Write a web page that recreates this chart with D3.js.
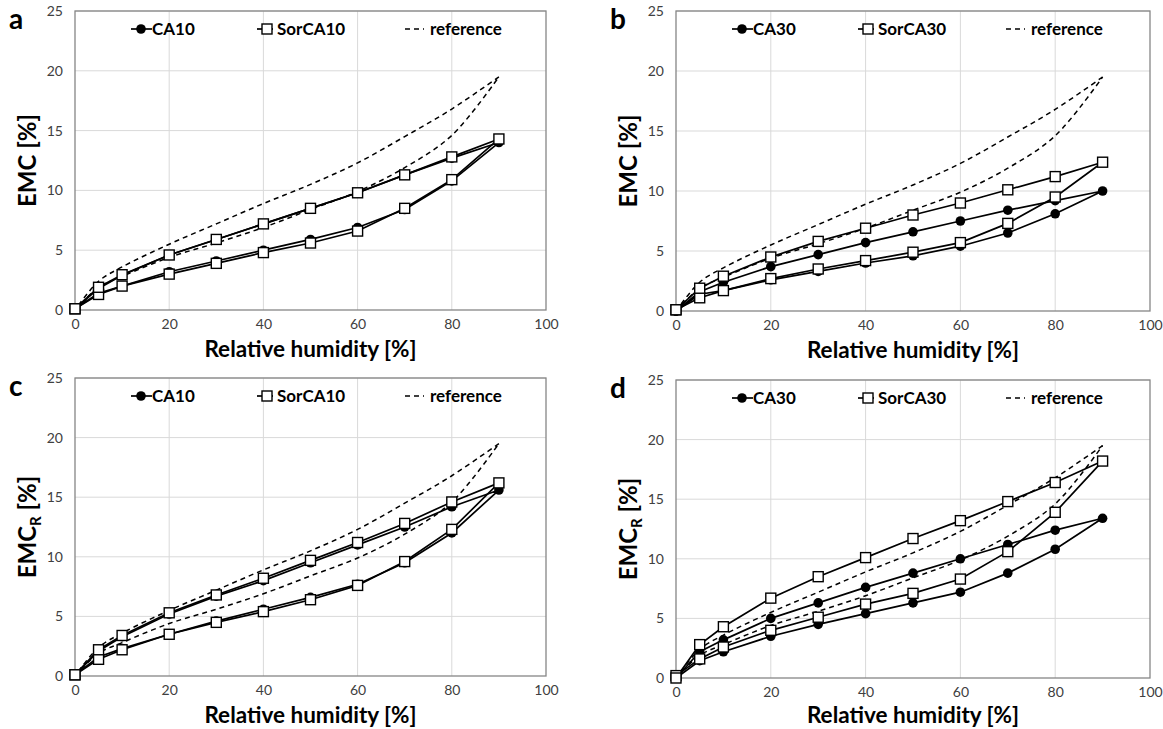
<!DOCTYPE html>
<html>
<head>
<meta charset="utf-8">
<script src="https://cdn.jsdelivr.net/npm/d3@7"></script>
<style>
  body { margin: 0; background: #fff; }
  svg { font-family: Lato, 'Open Sans', sans-serif; }
</style>
</head>
<body>
<div id="myPlot"></div>
<script>
// relative humidity steps: adsorption up, desorption back down
const rhAds = [0, 5, 10, 20, 30, 40, 50, 60, 70, 80, 90];
const rhDes = [80, 70, 60, 50, 40, 30, 20, 10, 5, 0];

// reference isotherm (same on every panel)
const refAds = [0, 1.9, 2.8, 4.4, 5.6, 6.9, 8.4, 9.9, 11.9, 14.6, 19.5];
const refDes = [16.8, 14.5, 12.3, 10.5, 8.9, 7.2, 5.5, 3.6, 2.4, 0];

// panel a - EMC, 10 % acetylation
const ca10Ads = [0.1, 1.4, 2.0, 3.2, 4.1, 5.0, 5.9, 6.9, 8.4, 10.8, 14.0];
const ca10Des = [12.7, 11.3, 9.8, 8.5, 7.2, 5.9, 4.6, 2.9, 1.8, 0.1];
const sorCa10Ads = [0.1, 1.3, 2.0, 3.0, 3.9, 4.8, 5.6, 6.6, 8.5, 10.9, 14.3];
const sorCa10Des = [12.8, 11.3, 9.8, 8.5, 7.2, 5.9, 4.6, 2.95, 1.9, 0.1];

// panel b - EMC, 30 %
const ca30Ads = [0, 1.4, 1.7, 2.6, 3.3, 4.0, 4.6, 5.4, 6.5, 8.1, 10.0];
const ca30Des = [9.2, 8.4, 7.5, 6.6, 5.7, 4.7, 3.7, 2.4, 1.6, 0];
const sorCa30Ads = [0.1, 1.1, 1.7, 2.7, 3.5, 4.2, 4.9, 5.7, 7.3, 9.5, 12.4];
const sorCa30Des = [11.2, 10.1, 9.0, 8.0, 6.9, 5.8, 4.5, 2.9, 1.9, 0.1];

// panel c - EMC_R, 10 %
const ca10RAds = [0.1, 1.6, 2.3, 3.5, 4.6, 5.6, 6.6, 7.7, 9.5, 12.0, 15.6];
const ca10RDes = [14.2, 12.5, 11.0, 9.5, 8.0, 6.7, 5.2, 3.3, 2.1, 0.1];
const sorCa10RAds = [0.1, 1.4, 2.2, 3.5, 4.5, 5.4, 6.4, 7.6, 9.6, 12.3, 16.2];
const sorCa10RDes = [14.6, 12.8, 11.2, 9.7, 8.2, 6.8, 5.3, 3.4, 2.2, 0.1];

// panel d - EMC_R, 30 %
const ca30RAds = [0, 1.45, 2.2, 3.5, 4.5, 5.4, 6.3, 7.2, 8.8, 10.8, 13.4];
const ca30RDes = [12.4, 11.2, 10.0, 8.8, 7.6, 6.3, 5.0, 3.2, 2.2, 0];
const sorCa30RAds = [0.2, 1.6, 2.6, 4.0, 5.1, 6.2, 7.1, 8.3, 10.6, 13.9, 18.2];
const sorCa30RDes = [16.4, 14.8, 13.2, 11.7, 10.1, 8.5, 6.7, 4.3, 2.8, 0];

const xTicks = [0, 20, 40, 60, 80, 100];
const yTicks = [0, 5, 10, 15, 20, 25];

const panels = [
  { letter: 'a', left: 75, right: 546, top: 11, bottom: 310, sub: false,
    names: ['CA10', 'SorCA10'], ca: [ca10Ads, ca10Des], sor: [sorCa10Ads, sorCa10Des] },
  { letter: 'b', left: 676, right: 1150, top: 11, bottom: 311, sub: false,
    names: ['CA30', 'SorCA30'], ca: [ca30Ads, ca30Des], sor: [sorCa30Ads, sorCa30Des] },
  { letter: 'c', left: 75, right: 546, top: 378, bottom: 676, sub: true,
    names: ['CA10', 'SorCA10'], ca: [ca10RAds, ca10RDes], sor: [sorCa10RAds, sorCa10RDes] },
  { letter: 'd', left: 676, right: 1150, top: 380, bottom: 678, sub: true,
    names: ['CA30', 'SorCA30'], ca: [ca30RAds, ca30RDes], sor: [sorCa30RAds, sorCa30RDes] }
];

const W = 1163, H = 729;
const svg = d3.select('#myPlot')
  .append('svg')
    .attr('width', W)
    .attr('height', H);

// ads + des into one loop of [rh, emc]
function loop(ads, des) {
  return rhAds.map((r, i) => [r, ads[i]]).concat(rhDes.map((r, i) => [r, des[i]]));
}

panels.forEach((p) => {
  const x = d3.scaleLinear().domain([0, 100]).range([p.left, p.right]);
  const y = d3.scaleLinear().domain([0, 25]).range([p.bottom, p.top]);
  const g = svg.append('g');

  // grid
  g.selectAll('line.hgrid')
    .data(yTicks.slice(1))
    .enter()
    .append('line')
      .attr('x1', p.left).attr('x2', p.right)
      .attr('y1', (d) => y(d)).attr('y2', (d) => y(d))
      .attr('stroke', '#d9d9d9').attr('stroke-width', 1);
  g.selectAll('line.vgrid')
    .data(xTicks.slice(1, -1))
    .enter()
    .append('line')
      .attr('y1', p.top).attr('y2', p.bottom)
      .attr('x1', (d) => x(d)).attr('x2', (d) => x(d))
      .attr('stroke', '#d9d9d9').attr('stroke-width', 1);

  g.append('rect')
    .attr('x', p.left).attr('y', p.top)
    .attr('width', p.right - p.left).attr('height', p.bottom - p.top)
    .attr('fill', 'none').attr('stroke', '#868686').attr('stroke-width', 1.3);

  // axes (labels only, frame drawn above)
  const xAxis = g.append('g')
    .attr('transform', 'translate(0,' + p.bottom + ')')
    .call(d3.axisBottom(x).tickValues(xTicks).tickSize(0).tickPadding(9));
  const yAxis = g.append('g')
    .attr('transform', 'translate(' + p.left + ',0)')
    .call(d3.axisLeft(y).tickValues(yTicks).tickSize(0).tickPadding(12));
  [xAxis, yAxis].forEach((a) => {
    a.select('.domain').remove();
    a.selectAll('text')
      .attr('font-family', 'Lato, sans-serif')
      .attr('font-size', 14)
      .attr('fill', '#404040');
  });

  // panel letter
  g.append('text')
    .attr('x', p.left - 66).attr('y', p.top + 18)
    .attr('font-size', 28).attr('font-weight', 'bold')
    .text(p.letter);

  // axis titles
  g.append('text')
    .attr('x', (p.left + p.right) / 2).attr('y', Math.min(p.bottom + 47, H - 6))
    .attr('text-anchor', 'middle')
    .attr('font-size', 22.5).attr('font-weight', 'bold')
    .text('Relative humidity [%]');

  const yt = g.append('text')
    .attr('transform', 'translate(' + (p.left - 39) + ',' + ((p.top + p.bottom) / 2) + ') rotate(-90)')
    .attr('text-anchor', 'middle')
    .attr('font-size', 24).attr('font-weight', 'bold');
  yt.append('tspan').text('EMC');
  if (p.sub) {
    yt.append('tspan').attr('font-size', 15).attr('dy', 5).text('R');
    yt.append('tspan').attr('dy', -5).text(' [%]');
  } else {
    yt.append('tspan').text(' [%]');
  }

  // reference dashed curves
  const refLine = d3.line()
    .x((d) => x(d[0])).y((d) => y(d[1]))
    .curve(d3.curveCatmullRom.alpha(0.5));
  const refA = rhAds.map((r, i) => [r, refAds[i]]);
  const refD = [[90, refAds[refAds.length - 1]]].concat(rhDes.map((r, i) => [r, refDes[i]]));
  [refA, refD].forEach((pts) => {
    g.append('path')
      .attr('d', refLine(pts))
      .attr('fill', 'none')
      .attr('stroke', '#000')
      .attr('stroke-width', 1.5)
      .attr('stroke-dasharray', '5,4');
  });

  // data loops
  const line = d3.line().x((d) => x(d[0])).y((d) => y(d[1]));
  const caPts = loop(p.ca[0], p.ca[1]);
  const sorPts = loop(p.sor[0], p.sor[1]);

  [caPts, sorPts].forEach((pts) => {
    g.append('path')
      .attr('d', line(pts))
      .attr('fill', 'none')
      .attr('stroke', '#000')
      .attr('stroke-width', 1.7);
  });

  g.selectAll('circle.ca')
    .data(caPts)
    .enter()
    .append('circle')
      .attr('cx', (d) => x(d[0]))
      .attr('cy', (d) => y(d[1]))
      .attr('r', 4.8)
      .attr('fill', '#000');

  g.selectAll('rect.sor')
    .data(sorPts)
    .enter()
    .append('rect')
      .attr('x', (d) => x(d[0]) - 5)
      .attr('y', (d) => y(d[1]) - 5)
      .attr('width', 10).attr('height', 10)
      .attr('fill', '#fff')
      .attr('stroke', '#000')
      .attr('stroke-width', 1.4);

  // legend
  const ly = p.top + 18;
  const lg = g.append('g').attr('font-size', 17).attr('font-weight', 'bold');
  const l1 = p.left + 56;
  lg.append('line').attr('x1', l1).attr('x2', l1 + 21).attr('y1', ly).attr('y2', ly)
    .attr('stroke', '#000').attr('stroke-width', 1.7);
  lg.append('circle').attr('cx', l1 + 10).attr('cy', ly).attr('r', 4.8).attr('fill', '#000');
  lg.append('text').attr('x', l1 + 21).attr('y', ly).attr('dy', '0.36em').text(p.names[0]);

  const l2 = p.left + 182;
  lg.append('line').attr('x1', l2).attr('x2', l2 + 16).attr('y1', ly).attr('y2', ly)
    .attr('stroke', '#000').attr('stroke-width', 1.7);
  lg.append('rect').attr('x', l2 + 5).attr('y', ly - 5).attr('width', 10).attr('height', 10)
    .attr('fill', '#fff').attr('stroke', '#000').attr('stroke-width', 1.4);
  lg.append('text').attr('x', l2 + 20).attr('y', ly).attr('dy', '0.36em').text(p.names[1]);

  const l3 = p.left + 330;
  lg.append('line').attr('x1', l3).attr('x2', l3 + 19).attr('y1', ly).attr('y2', ly)
    .attr('stroke', '#000').attr('stroke-width', 1.5).attr('stroke-dasharray', '5,4');
  lg.append('text').attr('x', l3 + 25).attr('y', ly).attr('dy', '0.36em').text('reference');
});
</script>
</body>
</html>
